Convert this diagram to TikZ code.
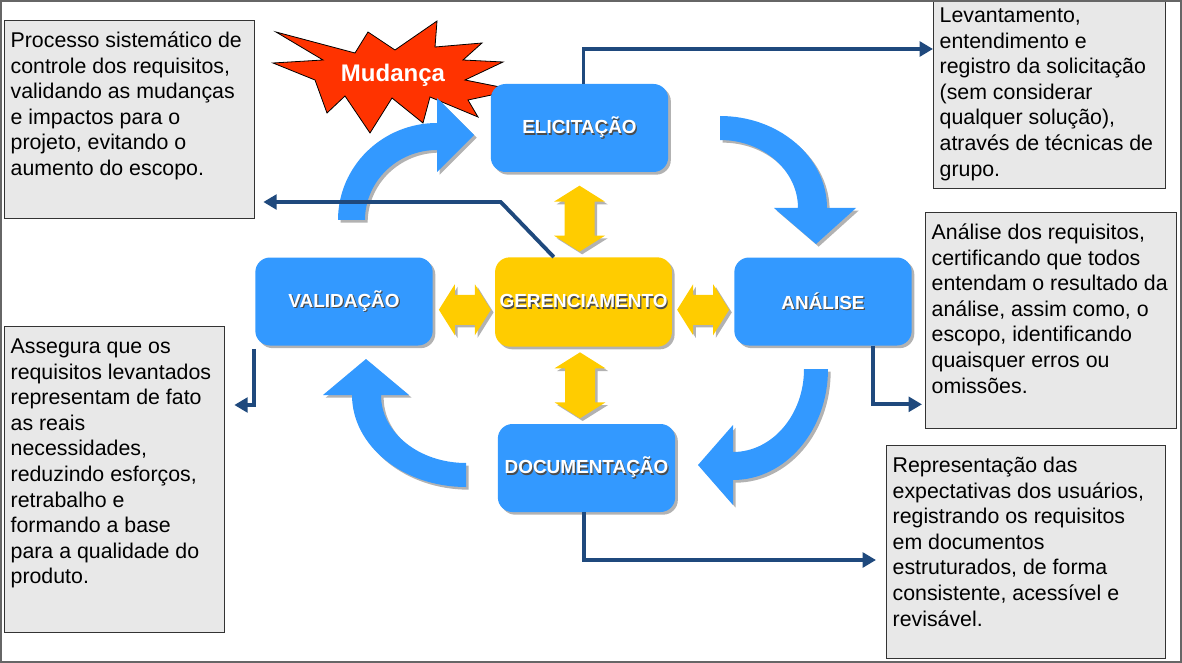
\documentclass[tikz,border=0pt]{standalone}
\usepackage{fontspec}
\setmainfont{Liberation Sans}
\usetikzlibrary{arrows.meta,calc,shadows}

% Text of the description boxes, top aligned
\newcommand{\infotext}[3]{\parbox[c][\dimexpr#2-13.4pt\relax][t]{\dimexpr#1-9pt\relax}{\begin{tabular}[t]{@{}l@{}}#3\end{tabular}}}
% White label with a dark shadow
\newcommand{\boxlabel}[1]{\rlap{\kern0.9pt\raisebox{-0.9pt}{\color{black!70}#1}}#1}

\tikzset{
  pics/hArrow/.style={code={
    \fill[fill=yellowColour, boxShadow] (-#1,0) -- (-#1+16,-25.5) -- (-#1+16,-15) -- (#1-16,-15) -- (#1-16,-25.5)
      -- (#1,0) -- (#1-16,25.5) -- (#1-16,15) -- (-#1+16,15) -- (-#1+16,25.5) -- cycle;
  }},
  pics/vArrow/.style={code={
    \fill[fill=yellowColour, boxShadow] (0,-#1) -- (-25.5,-#1+16) -- (-15,-#1+16) -- (-15,#1-16) -- (-25.5,#1-16)
      -- (0,#1) -- (25.5,#1-16) -- (15,#1-16) -- (15,-#1+16) -- (25.5,-#1+16) -- cycle;
  }},
}

\begin{document}
\begin{tikzpicture}[x=0.75pt,y=-0.75pt,
    boxShadow/.style={drop shadow={shadow xshift=2pt,shadow yshift=-2pt,fill=black!30,opacity=1}},
    stageBox/.style={rounded corners=11pt, fill=stageColour, text=white, minimum width=133pt,
      minimum height=66pt, font=\bfseries\fontsize{14.2}{17}\selectfont, boxShadow},
    infoBox/.style={draw=infoBorder, fill=infoColour, line width=1pt, anchor=north west,
      inner sep=0pt, font=\fontsize{16}{19.2}\selectfont},
    link/.style={draw=linkColour, line width=2.9pt, -{Triangle[length=10pt,width=11pt]}},
  ]
    \definecolor{stageColour}{HTML}{3399FF}
    \definecolor{yellowColour}{HTML}{FFCC00}
    \definecolor{infoColour}{HTML}{E8E8E8}
    \definecolor{infoBorder}{HTML}{333333}
    \definecolor{linkColour}{HTML}{1F497D}
    \definecolor{starColour}{HTML}{FF3300}
    \definecolor{frameColour}{HTML}{666666}

    \useasboundingbox (0,0) rectangle (1182,663);
    \clip (0,0) rectangle (1182,663);

    % Description boxes
    \node[infoBox, minimum width=187.5pt, minimum height=148.5pt] (descger) at (4,20)
      {\infotext{187.5pt}{148.5pt}{Processo sistemático de\\ controle dos requisitos,\\ validando as mudanças\\
        e impactos para o\\ projeto, evitando o\\ aumento do escopo.}};
    \node[infoBox, minimum width=174pt, minimum height=144.75pt] (descelic) at (933,-5)
      {\infotext{174pt}{144.75pt}{Levantamento,\\ entendimento e\\ registro da solicitação\\ (sem considerar\\
        qualquer solução),\\ através de técnicas de\\ grupo.}};
    \node[infoBox, minimum width=188.25pt, minimum height=162pt] (descanal) at (925,212)
      {\infotext{188.25pt}{162pt}{Análise dos requisitos,\\ certificando que todos\\ entendam o resultado da\\
        análise, assim como, o\\ escopo, identificando\\ quaisquer erros ou\\ omissões.}};
    \node[infoBox, minimum width=165pt, minimum height=229.5pt] (descvalid) at (4,326)
      {\infotext{165pt}{229.5pt}{Assegura que os\\ requisitos levantados\\ representam de fato\\ as reais\\
        necessidades,\\ reduzindo esforços,\\ retrabalho e\\ formando a base\\ para a qualidade do\\ produto.}};
    \node[infoBox, minimum width=209.25pt, minimum height=159.75pt] (descdoc) at (886,445)
      {\infotext{209.25pt}{159.75pt}{Representação das\\ expectativas dos usuários,\\ registrando os requisitos\\
        em documentos\\ estruturados, de forma\\ consistente, acessível e\\ revisável.}};

    % Star
    \filldraw[fill=starColour, draw=black, line width=0.6pt] (276,32) -- (355,53) -- (368,32) -- (395,50)
      -- (437,21) -- (435,47) -- (482,43) -- (463,60) -- (503,62) -- (465,80) -- (515,90) -- (468,100)
      -- (478,117) -- (430,97) -- (423,123) -- (392,98) -- (370,133) -- (345,96) -- (327,113)
      -- (315,80) -- (273,63) -- (323,60) -- cycle;
    \node[text=white, font=\bfseries\fontsize{18}{20}\selectfont] (mudanca) at (393,75) {Mudança};

    % Cycle arrows
    \fill[stageColour, boxShadow] (338,220) arc[start angle=180,end angle=270,x radius=99,y radius=97]
      -- (437,98) -- (474,135) -- (437,172) -- (437,150)
      arc[start angle=270,end angle=180,x radius=72,y radius=70] -- cycle;
    \fill[stageColour, boxShadow] (720,116) arc[start angle=270,end angle=360,x radius=107,y radius=92]
      -- (856,208) -- (816,244) -- (774,208) -- (798,208)
      arc[start angle=360,end angle=270,x radius=78,y radius=68] -- cycle;
    \fill[stageColour, boxShadow] (828,369) arc[start angle=0,end angle=90,x radius=95,y radius=111]
      -- (733,505) -- (698,465) -- (733,425) -- (733,452)
      arc[start angle=90,end angle=0,x radius=71,y radius=83] -- cycle;
    \fill[stageColour, boxShadow] (466,487) arc[start angle=90,end angle=180,x radius=114,y radius=92]
      -- (323,395) -- (366,359) -- (409,395) -- (381,395)
      arc[start angle=180,end angle=90,x radius=85,y radius=68] -- cycle;

    % Stages
    \node[stageBox] (elic) at (579.5,128) {\boxlabel{ELICITAÇÃO}};
    \node[stageBox] (valid) at (344,301.5) {\boxlabel{VALIDAÇÃO}};
    \node[stageBox] (anal) at (823,301.5) {\boxlabel{ANÁLISE}};
    \node[stageBox] (doc) at (586.5,468) {\boxlabel{DOCUMENTAÇÃO}};
    \node[stageBox, fill=yellowColour, minimum width=130pt, minimum height=67pt] (ger) at (583.5,302)
      {\boxlabel{GERENCIAMENTO}};

    % Double arrows round the centre
    \pic (gerup) at ($(elic.south)!0.5!(ger.north)+(-2,4)$) {vArrow=33};
    \pic (gerdown) at ($(ger.south)!0.5!(doc.north)+(-5,0)$) {vArrow=33};
    \pic (gerleft) at ($(valid.east)!0.5!(ger.west)+(1,8)$) {hArrow=26};
    \pic (gerright) at ($(ger.east)!0.5!(anal.west)+(0,8)$) {hArrow=26};

    % Links to the descriptions
    \draw[link] ([xshift=3pt]elic.north) |- ($(descelic.north west)+(0,54)$);
    \draw[link] ($(ger.north west)+(59,0)$) -- ($(ger.north west)+(6,-55)$) -- ($(descger.north east)+(8,182)$);
    \draw[link] ($(anal.south east)+(-39,0)$) |- ($(descanal.south west)+(-3,-25)$);
    \draw[link] ($(valid.south west)+(-1,3)$) |- ($(descvalid.north east)+(9,79)$);
    \draw[link] ([xshift=-2pt]doc.south) |- ($(descdoc.north west)+(-10,115)$);

    % Frame
    \draw[frameColour, line width=1.5pt] (1,1) rectangle (1181,662);
\end{tikzpicture}
\end{document}
